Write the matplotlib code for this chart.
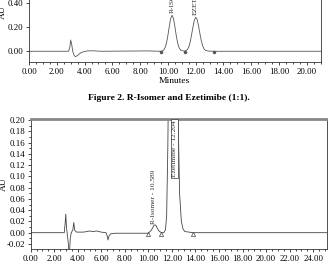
import numpy as np
import matplotlib
matplotlib.use("Agg")
import matplotlib.pyplot as plt
from matplotlib.ticker import MultipleLocator, FormatStrFormatter

plt.rcParams["font.family"] = ["Liberation Serif", "DejaVu Serif"]

# upper chromatogram (R-Isomer + Ezetimibe 1:1)
top_time = [0.0, 2.85, 2.95, 3.0, 3.07, 3.15, 3.25, 3.35, 3.5, 3.7, 3.9, 4.2, 4.6, 5.2,
            7.5, 8.5, 9.5, 9.6, 9.7, 9.8, 9.9, 10.0, 10.1, 10.2, 10.3, 10.4, 10.5, 10.6,
            10.7, 10.8, 10.9, 11.0, 11.2, 11.3, 11.4, 11.5, 11.6, 11.7, 11.8, 11.9, 12.0,
            12.1, 12.2, 12.3, 12.4, 12.5, 12.6, 12.7, 12.9, 13.3, 21.1]
top_au = [0.0, 0.0, 0.04, 0.094, 0.06, 0.0, -0.035, -0.045, -0.035, -0.015, -0.005, 0.003,
          0.004, 0.0, 0.002, 0.003, 0.0, 0.003, 0.011, 0.031, 0.07, 0.132, 0.208, 0.274,
          0.30, 0.274, 0.208, 0.132, 0.07, 0.031, 0.012, 0.005, 0.002, 0.005, 0.014, 0.035,
          0.075, 0.135, 0.2, 0.258, 0.283, 0.268, 0.215, 0.15, 0.09, 0.045, 0.02, 0.007,
          0.002, 0.0, 0.0]
top_marks_t = [9.5, 11.2, 13.3]
top_marks_au = [-0.003, -0.003, -0.003]
top_peaks = [("R-ISOMER", 10.3, 0.315), ("EZETIMIBE", 12.0, 0.30)]

# lower chromatogram
bot_time = [0.0, 2.85, 2.92, 2.98, 3.04, 3.12, 3.2, 3.28, 3.36, 3.45, 3.58, 3.66, 3.74,
            3.9, 4.5, 5.0, 5.3, 5.6, 6.0, 6.4, 6.5, 6.57, 6.65, 6.8, 7.2, 9.0, 9.97, 10.2,
            10.35, 10.45, 10.55, 10.65, 10.75, 10.9, 11.1, 11.3, 11.45, 11.55, 11.65, 11.75,
            11.9, 12.1, 12.3, 12.45, 12.55, 12.65, 12.8, 12.95, 13.1, 13.8, 25.15]
bot_au = [0.0, 0.0, 0.015, 0.033, 0.01, -0.005, -0.02, -0.045, -0.01, 0.0, 0.005, 0.018,
          0.004, 0.001, 0.001, 0.003, 0.002, 0.003, 0.001, 0.0, -0.006, -0.013, -0.006,
          -0.002, -0.001, -0.001, -0.001, 0.003, 0.008, 0.0125, 0.014, 0.0125, 0.008, 0.003,
          0.0, 0.0, 0.005, 0.03, 0.15, 0.35, 0.55, 0.62, 0.55, 0.35, 0.18, 0.07, 0.02, 0.006,
          0.002, 0.0, 0.0]
bot_marks_t = [9.97, 11.11, 13.8]
bot_marks_au = [-0.003, -0.003, -0.003]

W, H = 328, 266
fig = plt.figure(figsize=(W / 100, H / 100), dpi=100)
fs = 6.3


def px_axes(left, top, right, bottom):
    return fig.add_axes([left / W, 1 - bottom / H, (right - left) / W, (bottom - top) / H])


def style(ax):
    ax.tick_params(which="both", direction="out", labelsize=fs, width=0.5, pad=1.5)
    ax.tick_params(which="major", length=2.5)
    ax.tick_params(which="minor", length=1.5)
    for s in ax.spines.values():
        s.set_linewidth(0.6)
        s.set_color("#333333")


# top panel (frame top is cropped away in the source figure)
ax1 = px_axes(29, -8.7, 320.7, 62.3)
ax1.plot(top_time, top_au, color="#555555", lw=0.6)
ax1.plot(top_marks_t, top_marks_au, ls="none", marker="o", ms=1.5, color="#555555")
for name, t, y in top_peaks:
    ax1.text(t, y, name, rotation=90, ha="center", va="bottom", fontsize=fs - 1,
             color="#333333")
ax1.set_xlim(0, 21.0)
ax1.set_ylim(-0.092, 0.5)
ax1.xaxis.set_major_locator(MultipleLocator(2))
ax1.xaxis.set_minor_locator(MultipleLocator(0.5))
ax1.yaxis.set_major_locator(MultipleLocator(0.2))
ax1.xaxis.set_major_formatter(FormatStrFormatter("%.2f"))
ax1.yaxis.set_major_formatter(FormatStrFormatter("%.2f"))
ax1.set_xlabel("Minutes", fontsize=fs + 0.5, labelpad=0.5)
ax1.set_ylabel("AU", fontsize=fs + 0.5)
ax1.yaxis.set_label_coords(-0.075, 0.70)
style(ax1)

fig.text(168.7 / W, 1 - 98 / H, "Figure 2. R-Isomer and Ezetimibe (1:1).",
         ha="center", va="center", fontsize=6.8, fontweight="bold")

# bottom panel
ax2 = px_axes(30.7, 119.3, 326.7, 249.3)
ax2.plot(bot_time, bot_au, color="#444444", lw=0.6)
ax2.plot(bot_marks_t, bot_marks_au, ls="none", marker="^", ms=3, mfc="none",
         mec="#444444", mew=0.5)
ax2.text(10.46, 0.016, "R-Isomer - 10.589", rotation=90, ha="center", va="bottom",
         fontsize=fs - 1, color="#333333")
ax2.text(12.19, 0.199, "Ezetimibe - 12.204", rotation=90, ha="center", va="top",
         fontsize=fs - 1, color="#333333",
         bbox=dict(boxstyle="square,pad=0.15", fc="white", ec="#333333", lw=0.5))
ax2.set_xlim(0, 25.15)
ax2.set_ylim(-0.0295, 0.2012)
ax2.xaxis.set_major_locator(MultipleLocator(2))
ax2.xaxis.set_minor_locator(MultipleLocator(0.5))
ax2.yaxis.set_major_locator(MultipleLocator(0.02))
ax2.yaxis.set_minor_locator(MultipleLocator(0.01))
ax2.xaxis.set_major_formatter(FormatStrFormatter("%.2f"))
ax2.yaxis.set_major_formatter(FormatStrFormatter("%.2f"))
ax2.set_ylabel("AU", fontsize=fs + 0.5)
ax2.yaxis.set_label_coords(-0.077, 0.5)
style(ax2)
ax2.spines["top"].set_linewidth(2)
ax2.spines["top"].set_color("#888888")

fig.savefig("out.png", dpi=100)
